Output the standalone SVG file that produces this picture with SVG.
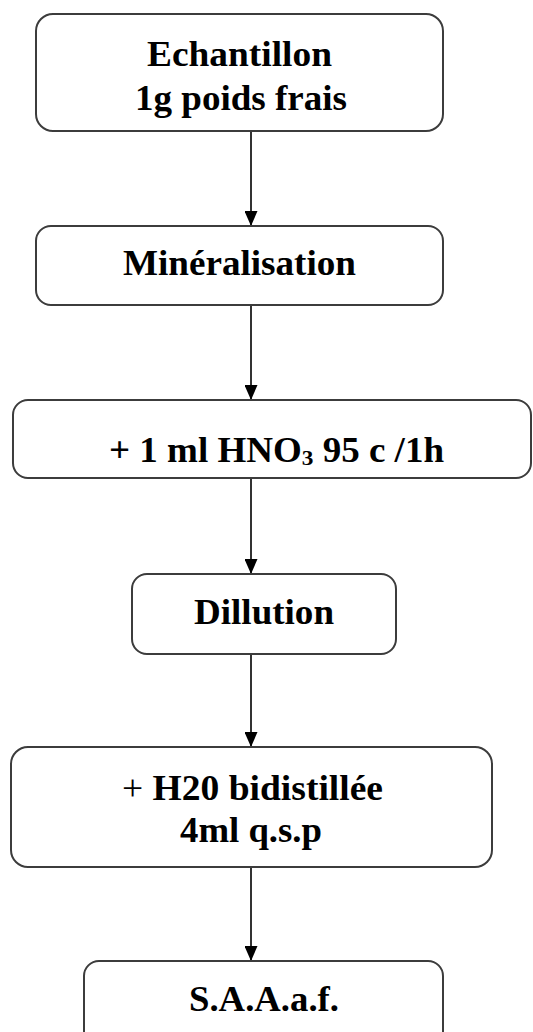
<svg xmlns="http://www.w3.org/2000/svg" width="533" height="1032" viewBox="0 0 533 1032">
<style>
.box{fill:#fff;stroke:#3c3c3c;stroke-width:2}
.t{font-family:"Liberation Serif","Times New Roman",serif;font-weight:bold;font-size:35px;fill:#000}
.c{stroke:#333;stroke-width:2;fill:none}
</style>
<defs>
<marker id="ah" markerWidth="15" markerHeight="13" refX="15" refY="6.5" orient="auto" markerUnits="userSpaceOnUse" viewBox="0 0 15 13">
<path d="M0,0 L15,6.5 L0,13 Z" fill="#000"/>
</marker>
</defs>
<rect width="533" height="1032" fill="#fff"/>
<g id="connectors">
<line class="c" x1="251" y1="131" x2="251" y2="226" marker-end="url(#ah)"/>
<line class="c" x1="251" y1="305" x2="251" y2="400" marker-end="url(#ah)"/>
<line class="c" x1="251" y1="478" x2="251" y2="574" marker-end="url(#ah)"/>
<line class="c" x1="251" y1="654" x2="251" y2="747" marker-end="url(#ah)"/>
<line class="c" x1="251" y1="867" x2="251" y2="961" marker-end="url(#ah)"/>
</g>
<g id="n1">
<rect class="box" x="36" y="14" width="407" height="117" rx="17"/>
<text class="t" x="147" y="66" textLength="185" lengthAdjust="spacingAndGlyphs">Echantillon</text>
<text class="t" x="135" y="110" textLength="212" lengthAdjust="spacingAndGlyphs">1g poids frais</text>
</g>
<g id="n2">
<rect class="box" x="36" y="226" width="407" height="79" rx="15"/>
<text class="t" x="123" y="275" textLength="233" lengthAdjust="spacingAndGlyphs">Minéralisation</text>
</g>
<g id="n3">
<rect class="box" x="13" y="400" width="518" height="78" rx="15"/>
<text class="t" x="109" y="462" textLength="335" lengthAdjust="spacingAndGlyphs">+ 1 ml HNO<tspan font-size="22" dy="3">3</tspan><tspan dy="-3"> 95 c /1h</tspan></text>
</g>
<g id="n4">
<rect class="box" x="132" y="574" width="264" height="80" rx="15"/>
<text class="t" x="194" y="624" textLength="140" lengthAdjust="spacingAndGlyphs">Dillution</text>
</g>
<g id="n5">
<rect class="box" x="11" y="747" width="481" height="120" rx="17"/>
<text class="t" x="122" y="800" textLength="261" lengthAdjust="spacingAndGlyphs"><tspan font-weight="normal">+</tspan> H20 bidistillée</text>
<text class="t" x="180" y="842" textLength="142" lengthAdjust="spacingAndGlyphs">4ml q.s.p</text>
</g>
<g id="n6">
<rect class="box" x="84" y="961" width="359" height="90" rx="15"/>
<text class="t" x="189" y="1011" textLength="150" lengthAdjust="spacingAndGlyphs">S.A.A.a.f.</text>
</g>
</svg>
